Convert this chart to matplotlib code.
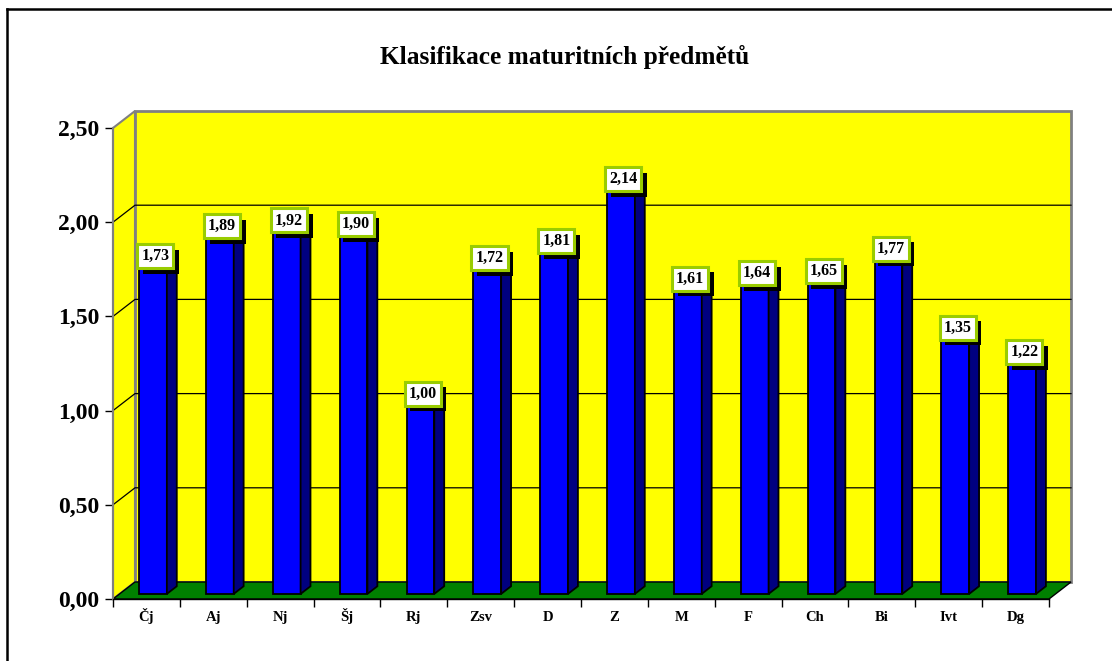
import matplotlib.pyplot as plt
import matplotlib.patheffects as pe
from matplotlib.patches import Polygon, Rectangle
from matplotlib.lines import Line2D

plt.rcParams['font.family'] = ['Liberation Serif', 'DejaVu Serif']
plt.rcParams['font.weight'] = 'bold'

# prumerne hodnoceni podle predmetu
predmety = ['Čj', 'Aj', 'Nj', 'Šj', 'Rj', 'Zsv', 'D', 'Z', 'M', 'F', 'Ch', 'Bi', 'Ivt', 'Dg']
prumer = [1.73, 1.89, 1.92, 1.90, 1.00, 1.72, 1.81, 2.14, 1.61, 1.64, 1.65, 1.77, 1.35, 1.22]
osa_y = [0.0, 0.5, 1.0, 1.5, 2.0, 2.5]
nadpis = 'Klasifikace maturitních předmětů'

W, H = 1112, 661
fig = plt.figure(figsize=(W / 100, H / 100), dpi=100)
ax = fig.add_axes([113 / W, 62 / H, 936 / W, 471 / H])
n = len(predmety)
ymax = osa_y[-1]
ax.set_xlim(0, n)
ax.set_ylim(0, ymax)
ax.patch.set_visible(False)

# hloubka 3D efektu v jednotkach dat
DX = 22 / (936 / n)
DY = 17 / (471 / ymax)

# bocni stena, zadni stena, podlaha
ax.add_patch(Polygon([(0, 0), (DX, DY), (DX, ymax + DY), (0, ymax)], closed=True,
                     fc='#FFFF00', ec='#808080', lw=1.5, clip_on=False, zorder=1))
ax.add_patch(Rectangle((DX, DY), n, ymax, fc='#FFFF00', ec='#808080', lw=2,
                       clip_on=False, zorder=1))
ax.add_patch(Polygon([(0, 0), (n, 0), (n + DX, DY), (DX, DY)], closed=True,
                     fc='#008000', ec='black', lw=1, clip_on=False, zorder=2))

# mrizka
for v in osa_y[1:-1]:
    ax.add_line(Line2D([0, DX, n + DX], [v, v + DY, v + DY], color='black', lw=0.9,
                       clip_on=False, zorder=1.5))

# sloupce
w = 0.414
f0, f1 = 0.3, 0.75
for i, v in enumerate(prumer):
    xl = i + (1 - w) / 2
    xr = xl + w
    front = Rectangle((xl + f0 * DX, f0 * DY), w, v, fc='#0000FF', ec='black', lw=1.3,
                      clip_on=False, zorder=3)
    side = Polygon([(xr + f0 * DX, f0 * DY), (xr + f1 * DX, f1 * DY),
                    (xr + f1 * DX, v + f1 * DY), (xr + f0 * DX, v + f0 * DY)], closed=True,
                   fc='#000080', ec='black', lw=1.3, clip_on=False, zorder=3)
    top = Polygon([(xl + f0 * DX, v + f0 * DY), (xr + f0 * DX, v + f0 * DY),
                   (xr + f1 * DX, v + f1 * DY), (xl + f1 * DX, v + f1 * DY)], closed=True,
                  fc='#0000FF', ec='black', lw=1.3, clip_on=False, zorder=3)
    for p in (front, side, top):
        ax.add_patch(p)

# popisky hodnot se stinem
for i, v in enumerate(prumer):
    tx = i + 0.5 + 0.4 * DX
    ty = v + 0.4 * DY + 10 / (471 / ymax)
    s = f'{v:.2f}'.replace('.', ',')
    t = ax.text(tx, ty, s, ha='center', va='center', fontsize=11.5, color='black',
                zorder=5, clip_on=False,
                bbox=dict(boxstyle='square,pad=0.25', fc='white', ec='#99CC00', lw=2.2))
    t.get_bbox_patch().set_path_effects([
        pe.SimplePatchShadow(offset=(4, -4), shadow_rgbFace='black', alpha=1.0),
        pe.Normal()])

# osy
for side in ('top', 'right'):
    ax.spines[side].set_visible(False)
ax.spines['left'].set_color('#808080')
ax.spines['left'].set_linewidth(1.5)
ax.spines['bottom'].set_color('black')
ax.spines['bottom'].set_linewidth(1)
ax.spines['left'].set_zorder(2.5)
ax.spines['bottom'].set_zorder(2.5)

ax.set_yticks(osa_y, [f'{v:.2f}'.replace('.', ',') for v in osa_y])
ax.tick_params(axis='y', length=6, width=1, color='black', labelsize=17, pad=4)
ax.set_xticks(range(n + 1), [''] * (n + 1))
ax.set_xticks([i + 0.5 for i in range(n)], predmety, minor=True)
ax.tick_params(axis='x', which='major', length=6, width=1, color='black')
ax.tick_params(axis='x', which='minor', length=0, labelsize=10.5, pad=16)
for lbl in ax.get_xticklabels(minor=True):
    lbl.set_verticalalignment('baseline')

fig.text(565 / W, 1 - 57 / H, nadpis, ha='center', va='center', fontsize=18.3,
         fontweight='bold')

# ramecek grafu
fig.add_artist(Line2D([7 / W, 7 / W], [0, 1 - 9 / H], color='black', lw=1.8))
fig.add_artist(Line2D([7 / W, 1], [1 - 9 / H, 1 - 9 / H], color='black', lw=1.8))

fig.savefig('out.png', dpi=100)
